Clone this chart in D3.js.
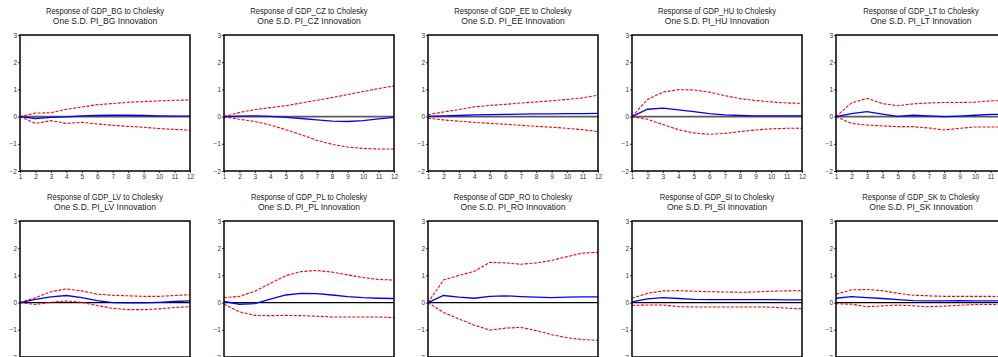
<!DOCTYPE html>
<html><head><meta charset="utf-8">
<script src="https://cdn.jsdelivr.net/npm/d3@7"></script>
<style>
body{margin:0;background:#fff;}
svg{display:block;}
text{font-family:"Liberation Sans",Arial,sans-serif;}
</style></head>
<body>
<svg id="chart" width="998" height="357"></svg>
<script>
const periods = [1,2,3,4,5,6,7,8,9,10,11,12];
const yTicks = [-2,-1,0,1,2,3];
const countries = ["BG","CZ","EE","HU","LT","LV","PL","RO","SI","SK"];

const respBG = [0,-0.07,-0.03,-0.01,0.03,0.04,0.05,0.05,0.04,0.03,0.02,0.02];
const upBG   = [0,0.13,0.14,0.27,0.35,0.44,0.48,0.53,0.55,0.58,0.60,0.61];
const loBG   = [0,-0.25,-0.15,-0.25,-0.21,-0.27,-0.32,-0.36,-0.39,-0.44,-0.47,-0.50];

const respCZ = [0,0.02,0.03,0.01,-0.03,-0.07,-0.12,-0.17,-0.18,-0.15,-0.08,-0.03];
const upCZ   = [0,0.15,0.26,0.33,0.40,0.50,0.60,0.70,0.81,0.92,1.03,1.13];
const loCZ   = [0,-0.10,-0.18,-0.31,-0.48,-0.67,-0.87,-1.02,-1.12,-1.17,-1.19,-1.19];

const respEE = [0.01,0.03,0.04,0.06,0.07,0.08,0.09,0.10,0.10,0.11,0.11,0.12];
const upEE   = [0.07,0.17,0.26,0.36,0.41,0.45,0.50,0.54,0.58,0.63,0.69,0.79];
const loEE   = [-0.06,-0.12,-0.17,-0.21,-0.25,-0.28,-0.32,-0.36,-0.39,-0.43,-0.48,-0.55];

const respHU = [0,0.27,0.31,0.25,0.18,0.11,0.06,0.04,0.03,0.03,0.03,0.03];
const upHU   = [0,0.63,0.90,0.99,0.98,0.90,0.77,0.66,0.59,0.54,0.50,0.49];
const loHU   = [0,-0.10,-0.29,-0.48,-0.60,-0.65,-0.62,-0.55,-0.49,-0.45,-0.43,-0.43];

const respLT = [0,0.11,0.18,0.09,0.01,0.05,0.03,0.00,0.02,0.05,0.08,0.09];
const upLT   = [0,0.50,0.67,0.48,0.40,0.47,0.50,0.52,0.52,0.53,0.58,0.58];
const loLT   = [0,-0.25,-0.31,-0.34,-0.37,-0.37,-0.42,-0.49,-0.43,-0.38,-0.38,-0.38];

const respLV = [0,0.12,0.21,0.26,0.18,0.07,0.00,-0.01,-0.01,0.01,0.04,0.06];
const upLV   = [0,0.18,0.40,0.50,0.43,0.31,0.27,0.25,0.23,0.23,0.26,0.29];
const loLV   = [0,-0.07,0.01,0.06,0.01,-0.11,-0.21,-0.26,-0.26,-0.23,-0.18,-0.15];

const respPL = [0.04,-0.06,-0.04,0.13,0.28,0.34,0.33,0.28,0.22,0.18,0.16,0.15];
const upPL   = [0.18,0.23,0.42,0.71,0.99,1.14,1.18,1.12,1.02,0.92,0.85,0.83];
const loPL   = [-0.06,-0.34,-0.47,-0.48,-0.47,-0.48,-0.50,-0.53,-0.53,-0.53,-0.53,-0.55];

const respRO = [0,0.26,0.20,0.16,0.23,0.25,0.22,0.20,0.18,0.20,0.21,0.21];
const upRO   = [0,0.83,1.00,1.15,1.48,1.46,1.41,1.46,1.55,1.69,1.82,1.85];
const loRO   = [0,-0.36,-0.60,-0.83,-1.01,-0.94,-0.91,-1.03,-1.18,-1.29,-1.36,-1.39];

const respSI = [0.03,0.14,0.18,0.15,0.12,0.11,0.11,0.11,0.11,0.11,0.10,0.10];
const upSI   = [0.16,0.34,0.43,0.44,0.42,0.40,0.39,0.38,0.39,0.42,0.43,0.44];
const loSI   = [-0.10,-0.09,-0.09,-0.15,-0.16,-0.16,-0.16,-0.16,-0.16,-0.17,-0.20,-0.23];

const respSK = [0.16,0.22,0.18,0.15,0.11,0.07,0.06,0.06,0.07,0.06,0.06,0.06];
const upSK   = [0.31,0.47,0.48,0.44,0.34,0.27,0.25,0.23,0.23,0.23,0.23,0.22];
const loSK   = [-0.04,-0.06,-0.15,-0.12,-0.09,-0.12,-0.15,-0.13,-0.10,-0.07,-0.07,-0.07];

const panels = [
  {c:"BG", r:respBG, u:upBG, l:loBG},
  {c:"CZ", r:respCZ, u:upCZ, l:loCZ},
  {c:"EE", r:respEE, u:upEE, l:loEE},
  {c:"HU", r:respHU, u:upHU, l:loHU},
  {c:"LT", r:respLT, u:upLT, l:loLT},
  {c:"LV", r:respLV, u:upLV, l:loLV},
  {c:"PL", r:respPL, u:upPL, l:loPL},
  {c:"RO", r:respRO, u:upRO, l:loRO},
  {c:"SI", r:respSI, u:upSI, l:loSI},
  {c:"SK", r:respSK, u:upSK, l:loSK}
];

const svg = d3.select("#chart");
const pw = 170, ph = 136;
const colX = [20,224,428,632,836];
const rowY = [35,221];

const x = d3.scaleLinear().domain([1,12]).range([0,pw]);
const y = d3.scaleLinear().domain([-2,3]).range([ph,0]);

panels.forEach((p,i)=>{
  const row = Math.floor(i/5), col = i%5;
  const g = svg.append("g").attr("transform",`translate(${colX[col]},${rowY[row]})`);

  // titles
  const t1 = g.append("text").attr("text-anchor","middle")
    .attr("transform",`translate(${pw/2},${-21.5}) scale(0.8,1)`)
    .attr("font-size","9.5px").attr("fill","#222")
    .text(`Response of GDP_${p.c} to Cholesky`);
  const t2 = g.append("text").attr("text-anchor","middle")
    .attr("transform",`translate(${pw/2},${-11}) scale(0.9,1)`)
    .attr("font-size","9.5px").attr("fill","#222")
    .text(`One S.D. PI_${p.c} Innovation`);

  // axes
  const ya = d3.axisLeft(y).tickValues(yTicks).tickSize(2).tickPadding(1).tickFormat(d3.format("d"));
  const yg = g.append("g").call(ya);
  yg.select(".domain").remove();
  yg.selectAll("text").attr("font-size","6.5px").attr("fill","#333").style("font-family","Liberation Sans, Arial, sans-serif");
  yg.selectAll("line").attr("stroke","#333");

  const xa = d3.axisBottom(x).tickValues(periods).tickSize(2).tickPadding(1).tickFormat(d3.format("d"));
  const xg = g.append("g").attr("transform",`translate(0,${ph})`).call(xa);
  xg.select(".domain").remove();
  xg.selectAll("text").attr("font-size","6.5px").attr("fill","#333").style("font-family","Liberation Sans, Arial, sans-serif");
  xg.selectAll("line").attr("stroke","#333");

  // zero line
  g.append("line").attr("x1",0).attr("x2",pw).attr("y1",y(0)).attr("y2",y(0))
    .attr("stroke", row===0 ? "#5a5a5a" : "#000").attr("stroke-width", row===0 ? 1.6 : 1.2);

  const line = d3.line().x((d,j)=>x(periods[j])).y(d=>y(d));
  g.append("path").attr("d",line(p.u)).attr("fill","none").attr("stroke","#ff0000")
    .attr("stroke-width",1.1).attr("stroke-dasharray","3,1.5");
  g.append("path").attr("d",line(p.l)).attr("fill","none").attr("stroke","#ff0000")
    .attr("stroke-width",1.1).attr("stroke-dasharray","3,1.5");
  g.append("path").attr("d",line(p.r)).attr("fill","none").attr("stroke","#0000ff")
    .attr("stroke-width",1.3);

  // frame
  g.append("rect").attr("x",0).attr("y",0).attr("width",pw).attr("height",ph)
    .attr("fill","none").attr("stroke","#000").attr("stroke-width",1.5);
});
</script>
</body></html>
